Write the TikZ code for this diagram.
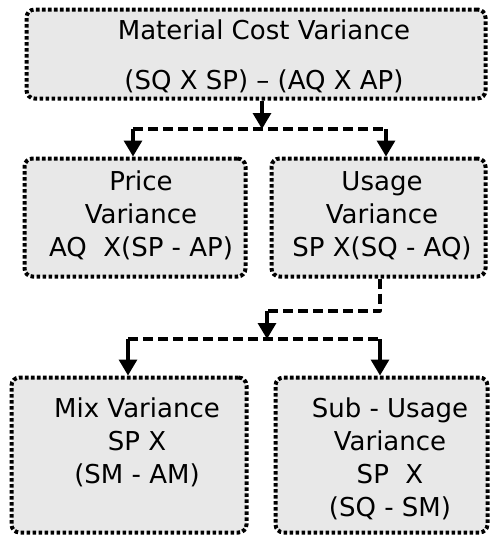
\documentclass[tikz,border=0pt]{standalone}
\usepackage{fontspec}
\setmainfont{DejaVu Sans}
\usetikzlibrary{arrows.meta}
\tikzset{
	box/.style={draw, line width=4pt, dash pattern=on 3.6pt off 2.4pt, rounded corners=8pt, fill=black!9, inner sep=0pt},
	txt/.style={align=center, font=\fontsize{26}{33}\selectfont},
	dashline/.style={line width=3.2pt, dash pattern=on 10pt off 5pt},
	arr/.style={line width=3.2pt, -{Triangle[width=18pt,length=16pt]}}
}
\begin{document}
\begin{tikzpicture}[x=1pt, y=-1pt, line join=round]
	\useasboundingbox (0,0) rectangle (490,536);
	%Các hộp
	\node[box, minimum width=459pt, minimum height=89pt] (mcv) at (256,54) {};
	\node[box, minimum width=221pt, minimum height=118pt] (price) at (135,217.5) {};
	\node[box, minimum width=214pt, minimum height=118pt] (usage) at (378.5,217.5) {};
	\node[box, minimum width=235pt, minimum height=155pt] (mix) at (129,455) {};
	\node[box, minimum width=212pt, minimum height=155pt] (subusage) at (381.5,455) {};
	%Chữ trong hộp
	\node[txt] (mcvtxt) at (264,56) {Material Cost Variance\\[17pt](SQ X SP) – (AQ X AP)};
	\node[txt] (pricetxt) at (141,215.5) {Price\\Variance\\AQ\ \ X(SP - AP)};
	\node[txt] (usagetxt) at (382,215.5) {Usage\\Variance\\SP X(SQ - AQ)};
	\node[txt] (mixtxt) at (137,442.5) {Mix Variance\\SP X\\(SM - AM)};
	\node[txt] (subusagetxt) at (390,459) {Sub - Usage\\Variance\\SP\ \ X\\(SQ - SM)};
	%Nhánh thứ nhất
	\coordinate (j1) at (262,129);
	\coordinate (j1l) at (133,129);
	\coordinate (j1r) at (386,129);
	\draw[arr] (mcv.south -| j1) -- (j1);
	\draw[dashline] (j1l) -- (j1r);
	\draw[arr] (j1l) -- (price.north -| j1l);
	\draw[arr] (j1r) -- (usage.north -| j1r);
	%Nhánh thứ hai
	\coordinate (j2) at (380,311);
	\coordinate (j2l) at (267,311);
	\coordinate (j3) at (267,339);
	\coordinate (j3l) at (128,339);
	\coordinate (j3r) at (380,339);
	\draw[dashline] (usage.south -| j2) -- (j2) -- (j2l);
	\draw[arr] (j2l) -- (j3);
	\draw[dashline] (j3l) -- (j3r);
	\draw[arr] (j3l) -- (mix.north -| j3l);
	\draw[arr] (j3r) -- (subusage.north -| j3r);
\end{tikzpicture}
\end{document}
